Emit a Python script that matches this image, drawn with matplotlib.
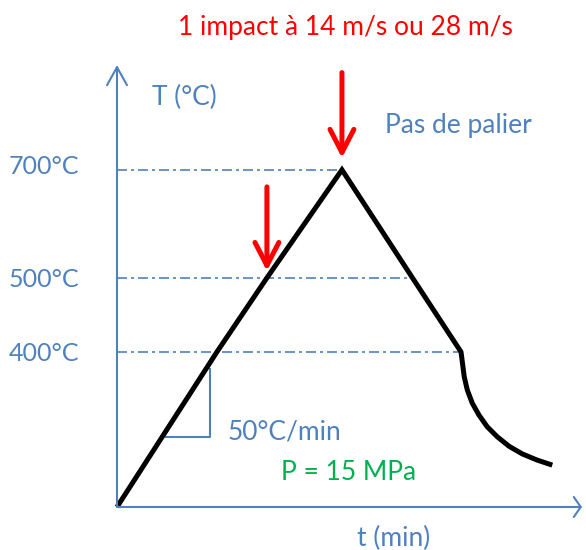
import numpy as np
import matplotlib.pyplot as plt
from matplotlib.transforms import ScaledTranslation

plt.rcParams['font.family'] = ['Lato', 'DejaVu Sans']

# cycle thermique (schéma) : t en min, T en °C
t_profil = [0, 6.22, 9.33, 14.0, 18.39, 21.41,
            21.53, 21.61, 21.80, 22.11, 22.53, 23.04, 23.67, 24.39, 25.22, 26.15, 27.09]
T_profil = [0, 400, 500, 700, 500, 400,
            362, 336, 302, 268, 237, 207, 181, 157, 137, 121, 108]

# lignes de niveau et leur fin sur la courbe
paliers = [700, 500, 400]
paliers_fin = [14.0, 18.39, 21.41]
labels_T = ['700°C', '500°C', '400°C']

# impacts
impacts_t = [14.0, 9.33]
impacts_T = [700, 500]

# triangle de pente 50°C/min
pente_t = [3.05, 5.79]
pente_T = [181, 356]

# axe T non linéaire (schéma) : hauteur en px au-dessus de l'origine
T_knots = [-1000, 0, 400, 500, 700, 3000]
h_knots = [-387.5, 0, 155, 229, 337, 1579]


def fwd(T):
    return np.interp(T, T_knots, h_knots)


def inv(h):
    return np.interp(h, h_knots, T_knots)


blue = '#4F81BD'
green = '#00B050'
W, H = 586, 550


def px(x, y):
    return x / W, 1 - y / H


fig = plt.figure(figsize=(W / 100, H / 100), dpi=100)
ax = fig.add_axes([117 / W, 43 / H, 465 / W, 442 / H])
ax.set_yscale('function', functions=(fwd, inv))
ax.set_xlim(0, 28.94)
ax.set_ylim(0, 894)
for s in ax.spines.values():
    s.set_visible(False)
ax.patch.set_alpha(0)

# axes avec flèches
arr = dict(color=blue, lw=1.5, shrinkA=0, shrinkB=0, mutation_scale=10)
ax.annotate('', xy=(0, 1), xytext=(0, 0), xycoords='axes fraction',
            arrowprops=dict(arrowstyle='->,head_length=1.3,head_width=0.72', **arr))
ax.annotate('', xy=(1, 0), xytext=(0, 0), xycoords='axes fraction',
            arrowprops=dict(arrowstyle='->,head_length=0.5,head_width=0.72', **arr))

fs = 19
ax.set_xticks([])
ax.set_yticks(paliers, labels_T)
ax.tick_params(axis='y', length=0, pad=27, labelsize=18, labelcolor=blue)
ax.minorticks_off()
# 700°C un peu au-dessus de sa ligne
lab = ax.get_yticklabels()[0]
lab.set_transform(lab.get_transform() + ScaledTranslation(0, 0.05, fig.dpi_scale_trans))

for T, te in zip(paliers, paliers_fin):
    ax.plot([0, te], [T, T], color=blue, lw=1.2, dashes=(6, 2.4, 1.8, 2.4))

ax.plot([pente_t[0], pente_t[1], pente_t[1]], [pente_T[0], pente_T[0], pente_T[1]],
        color=blue, lw=1.5)

ax.plot(t_profil, T_profil, color='black', lw=3.6, solid_joinstyle='miter',
        solid_capstyle='butt', clip_on=False)

# flèches d'impact
for t, T, L, sb in zip(impacts_t, impacts_T, [70, 65.5], [8.6, 5]):
    ax.annotate('', xy=(t, T), xytext=(0, L), textcoords='offset points',
                arrowprops=dict(arrowstyle='->,head_length=1.66,head_width=0.86',
                                color='red', lw=3.6, shrinkA=0, shrinkB=sb,
                                mutation_scale=10))

fig.text(*px(345, 28), '1 impact à 14 m/s ou 28 m/s', color='red', fontsize=fs,
         ha='center', va='center')
fig.text(*px(152, 97), 'T (°C)', color=blue, fontsize=fs, ha='left', va='center')
fig.text(*px(385, 125), 'Pas de palier', color=blue, fontsize=fs, ha='left', va='center')
fig.text(*px(228, 432), '50°C/min', color=blue, fontsize=fs, ha='left', va='center')
fig.text(*px(281, 473), 'P = 15 MPa', color=green, fontsize=fs, ha='left', va='center')
fig.text(*px(357, 538), 't (min)', color=blue, fontsize=fs, ha='left', va='center')

fig.savefig('out.png', dpi=100)
